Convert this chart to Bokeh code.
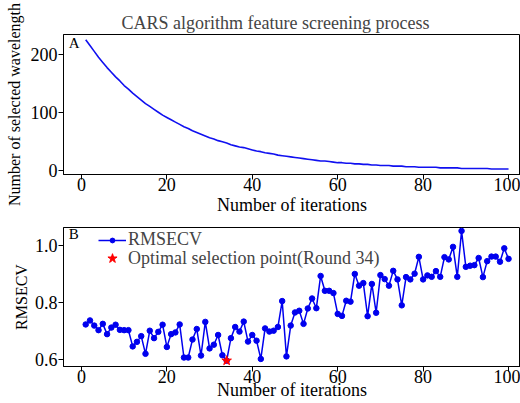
from bokeh.plotting import figure
from bokeh.layouts import column
from bokeh.models import FixedTicker, Label, Legend, LegendItem, Range1d, PrintfTickFormatter
from bokeh.embed import file_html
from bokeh.resources import INLINE

FONT = "'Liberation Serif', 'DejaVu Serif', serif"

iterations = list(range(1, 101))

n_selected = [
    225, 215, 205, 195, 186, 177, 169, 161, 154, 146,
    140, 133, 127, 121, 115, 110, 105, 100, 95, 91,
    87, 83, 79, 75, 72, 68, 65, 62, 59, 56,
    54, 51, 49, 47, 44, 42, 40, 39, 37, 35,
    33, 32, 30, 29, 28, 26, 25, 24, 23, 22,
    21, 20, 19, 18, 17, 16, 16, 15, 14, 13,
    13, 12, 12, 11, 11, 10, 10, 9, 9, 8,
    8, 8, 7, 7, 7, 6, 6, 6, 5, 5,
    5, 5, 5, 4, 4, 4, 4, 4, 3, 3,
    3, 3, 3, 3, 3, 2, 2, 2, 2, 2,
]

rmsecv = [
    0.724, 0.738, 0.720, 0.704, 0.726, 0.690, 0.713, 0.723, 0.705, 0.704,
    0.704, 0.647, 0.663, 0.683, 0.621, 0.702, 0.676, 0.698, 0.723, 0.645,
    0.690, 0.696, 0.724, 0.608, 0.608, 0.671, 0.708, 0.615, 0.733, 0.640,
    0.653, 0.687, 0.616, 0.597, 0.676, 0.715, 0.699, 0.734, 0.664, 0.687,
    0.667, 0.603, 0.710, 0.699, 0.702, 0.715, 0.806, 0.612, 0.720, 0.766,
    0.772, 0.726, 0.780, 0.815, 0.781, 0.894, 0.842, 0.842, 0.834, 0.761,
    0.754, 0.807, 0.804, 0.901, 0.860, 0.869, 0.753, 0.866, 0.765, 0.897,
    0.883, 0.860, 0.912, 0.882, 0.791, 0.890, 0.882, 0.902, 0.961, 0.882,
    0.896, 0.891, 0.911, 0.891, 0.960, 0.952, 0.996, 0.891, 1.052, 0.926,
    0.930, 0.932, 0.957, 0.890, 0.946, 0.962, 0.962, 0.944, 0.991, 0.954,
]

best_round = [34]
best_rmsecv = [0.597]

x_ticks = [0, 20, 40, 60, 80, 100]
y_ticks_a = [0, 100, 200]
y_ticks_b = [0.6, 0.8, 1.0]


def style(p, xt, yt):
    p.xgrid.grid_line_color = None
    p.ygrid.grid_line_color = None
    p.outline_line_color = "black"
    p.outline_line_width = 1
    p.xaxis.ticker = FixedTicker(ticks=xt)
    p.yaxis.ticker = FixedTicker(ticks=yt)
    for ax in (p.xaxis[0], p.yaxis[0]):
        ax.axis_line_color = "black"
        ax.major_tick_line_color = "black"
        ax.minor_tick_line_color = None
        ax.major_tick_in = 0
        ax.major_tick_out = 5
        ax.major_label_text_font = FONT
        ax.major_label_text_font_size = "18px"
        ax.major_label_text_color = "black"
        ax.axis_label_text_font = FONT
        ax.axis_label_text_font_size = "18px"
        ax.axis_label_text_font_style = "normal"
        ax.axis_label_text_color = "black"
        ax.major_label_standoff = 1
        ax.axis_label_standoff = 0


p1 = figure(width=520, height=219, output_backend="svg", toolbar_location=None,
            x_range=Range1d(-4.2, 102.8), y_range=Range1d(-7.4, 234.1),
            min_border_left=63, min_border_right=0, min_border_top=34, min_border_bottom=45)
p1.title.text = "CARS algorithm feature screening process"
p1.title.text_font = FONT
p1.title.text_font_size = "18px"
p1.title.text_font_style = "normal"
p1.title.align = "left"
p1.title.offset = 58
p1.title.standoff = 4
style(p1, x_ticks, y_ticks_a)
p1.xaxis.axis_label = "Number of iterations"
p1.xaxis.major_label_standoff = -2
p1.xaxis.axis_label_standoff = 1
p1.yaxis.axis_label = "Number of selected wavelength"
p1.yaxis.axis_label_text_font_size = "16px"
p1.yaxis.axis_label_standoff = 5
p1.line(iterations, n_selected, color="#1010f0", line_width=1.6)
p1.add_layout(Label(x=-3.0, y=205, text="A", text_font=FONT, text_font_size="15px",
                    text_color="black"))

p2 = figure(width=520, height=184, output_backend="svg", toolbar_location=None,
            x_range=Range1d(-4.2, 102.8), y_range=Range1d(0.5765, 1.064),
            min_border_left=63, min_border_right=0, min_border_top=8, min_border_bottom=37)
style(p2, x_ticks, y_ticks_b)
p2.yaxis.formatter = PrintfTickFormatter(format="%.1f")
p2.xaxis.axis_label = "Number of iterations"
p2.xaxis.major_label_standoff = -2
p2.xaxis.axis_label_standoff = -6
p2.yaxis.axis_label = "RMSECV"
p2.yaxis.axis_label_text_font_size = "16px"
p2.yaxis.axis_label_standoff = 2
r_line = p2.line(iterations, rmsecv, color="#0000ee", line_width=1.5)
r_pts = p2.scatter(iterations, rmsecv, size=5.5, color="#0000ee")
r_star = p2.scatter(best_round, best_rmsecv, marker="star", size=10, color="red")
p2.add_layout(Label(x=-3.0, y=1.0116, text="B", text_font=FONT, text_font_size="15px",
                    text_color="black"))
legend1 = Legend(items=[LegendItem(label="RMSECV", renderers=[r_line, r_pts])],
                 location=(35, 116), border_line_color=None, background_fill_alpha=0,
                 padding=0, spacing=0, margin=0, glyph_width=28, glyph_height=12,
                 label_height=19, label_standoff=2,
                 label_text_font=FONT, label_text_font_size="18px")
legend2 = Legend(items=[LegendItem(label="Optimal selection point(Round 34)", renderers=[r_star])],
                 location=(35, 96), border_line_color=None, background_fill_alpha=0,
                 padding=0, spacing=0, margin=0, glyph_width=28, glyph_height=24,
                 label_height=19, label_standoff=2,
                 label_text_font=FONT, label_text_font_size="18px")
p2.add_layout(legend1)
p2.add_layout(legend2)

layout = column(p1, p2, spacing=0)
open("out.html", "w").write(file_html(layout, INLINE))
